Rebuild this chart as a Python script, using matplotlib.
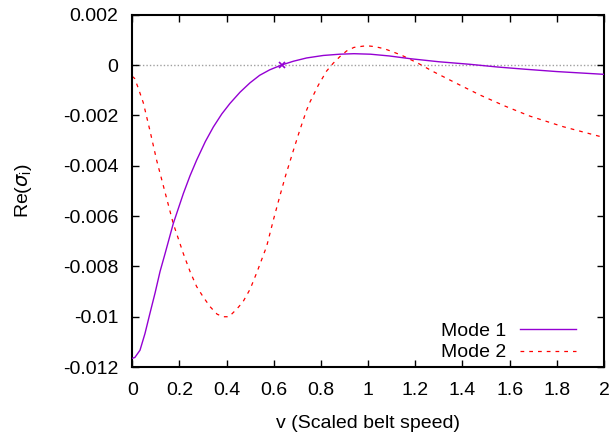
import matplotlib
matplotlib.use("Agg")
import matplotlib.pyplot as plt

# Mode 1 data
m1_x = [0.0, 0.011, 0.033, 0.054, 0.075, 0.097, 0.118, 0.139, 0.174, 0.217, 0.245, 0.273,
        0.31, 0.344, 0.38, 0.414, 0.457, 0.499, 0.54, 0.583, 0.633, 0.683, 0.739, 0.81,
        0.88, 0.94, 1.01, 1.09, 1.18, 1.3, 1.43, 1.55, 1.67, 1.8, 2.0]
m1_y = [-0.01165, -0.01162, -0.01133, -0.01067, -0.00987, -0.00905, -0.0082, -0.0075,
        -0.0063, -0.0051, -0.0044, -0.00378, -0.00304, -0.00246, -0.00194, -0.00153, -0.00108,
        -0.00071, -0.00041, -0.00019, 0.0, 0.00015, 0.00028, 0.00038, 0.00043, 0.00045,
        0.00043, 0.00036, 0.00025, 0.00013, 0.00003, -0.00008, -0.00017, -0.00026, -0.00037]

# Mode 2 data
m2_x = [0.0, 0.01, 0.025, 0.047, 0.075, 0.104, 0.132, 0.174, 0.217, 0.245, 0.273, 0.30,
        0.33, 0.36, 0.386, 0.41, 0.443, 0.47, 0.50, 0.53, 0.57, 0.60, 0.626, 0.65, 0.683,
        0.71, 0.739, 0.753, 0.789, 0.824, 0.852, 0.88, 0.909, 0.94, 0.979, 1.0, 1.03,
        1.071, 1.10, 1.142, 1.212, 1.276, 1.375, 1.474, 1.58, 1.686, 1.827, 2.0]
m2_y = [-0.00045, -0.00053, -0.0009, -0.0015, -0.0026, -0.0038, -0.0048, -0.0063, -0.0075,
        -0.0082, -0.0088, -0.0092, -0.0096, -0.0099, -0.0100, -0.0100, -0.0097, -0.0094,
        -0.0089, -0.0082, -0.0072, -0.0061, -0.0052, -0.0044, -0.0034, -0.0026, -0.0018,
        -0.00148, -0.0008, -0.00024, 0.00007, 0.00033, 0.00056, 0.0007, 0.00075, 0.00076,
        0.00073, 0.00064, 0.00054, 0.00039, 0.00007, -0.00026, -0.00073, -0.00119, -0.00163,
        -0.00203, -0.00245, -0.00288]

# marked point
pt_x = [0.635]
pt_y = [0.0]

xticks = [0, 0.2, 0.4, 0.6, 0.8, 1.0, 1.2, 1.4, 1.6, 1.8, 2.0]
xticklabels = ["0", "0.2", "0.4", "0.6", "0.8", "1", "1.2", "1.4", "1.6", "1.8", "2"]
yticks = [0.002, 0, -0.002, -0.004, -0.006, -0.008, -0.01, -0.012]
yticklabels = ["0.002", "0", "-0.002", "-0.004", "-0.006", "-0.008", "-0.01", "-0.012"]

plt.rcParams['font.family'] = ['Liberation Sans', 'DejaVu Sans']
FS = 14

fig = plt.figure(figsize=(6.11, 4.37), dpi=100)
ax = fig.add_axes([0.2164, 0.160, 0.7721, 0.8064])

ax.axhline(0, color='#a0a0a0', lw=1.0, ls=(0, (1, 1.5)), zorder=1)
ax.plot(m1_x, m1_y, color='#9400D3', lw=1.0, label='Mode 1', zorder=3)
ax.plot(m2_x, m2_y, color='#ff0000', lw=0.9, ls=(0, (3, 4)), label='Mode 2', zorder=2)
ax.plot(pt_x, pt_y, marker='x', color='#9400D3', ms=5, mew=1.2, ls='none', zorder=4)

ax.set_xlim(0, 2)
ax.set_ylim(-0.012, 0.002)
ax.set_xticks(xticks)
ax.set_xticklabels(xticklabels)
ax.set_yticks(yticks)
ax.set_yticklabels(yticklabels)
ax.tick_params(direction='in', length=5, width=1, top=True, right=True, labelsize=FS)
ax.tick_params(axis='y', pad=10)
ax.tick_params(axis='x', pad=11)
for s in ax.spines.values():
    s.set_linewidth(1.5)

ax.set_xlabel('v (Scaled belt speed)', fontsize=FS, labelpad=11)
ax.set_ylabel(r'Re($\sigma_\mathregular{i}$)', fontsize=FS, labelpad=21)

ax.legend(loc='lower right', frameon=False, markerfirst=False, fontsize=FS,
          handlelength=2.9, handletextpad=0.7, borderaxespad=0.0, labelspacing=0.18,
          bbox_to_anchor=(0.958, -0.006))

fig.savefig('out.png', dpi=100)
